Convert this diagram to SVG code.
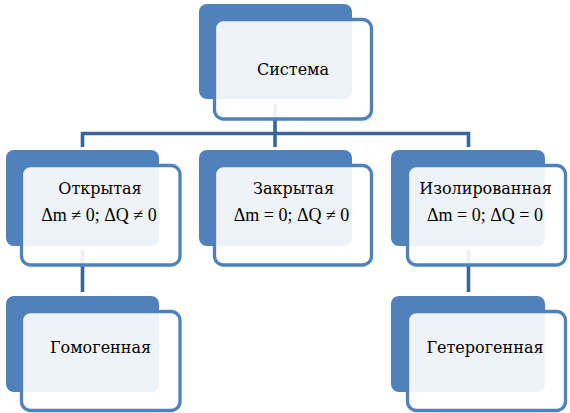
<svg xmlns="http://www.w3.org/2000/svg" width="570" height="413" viewBox="0 0 570 413">
  <style>
    .back { fill: #4F81BD; }
    .front { fill: #FFFFFF; fill-opacity: 0.9; stroke: #4F81BD; stroke-width: 3.3; }
    .conn { fill: none; stroke: #3D6497; stroke-width: 3.6; }
    .label { font-family: "DejaVu Serif", "Liberation Serif", serif; font-size: 16px; fill: #000000; text-anchor: middle; }
    .formula { font-family: "Liberation Serif", "DejaVu Serif", serif; font-size: 18px; fill: #000000; text-anchor: middle; }
  </style>
  <rect width="570" height="413" fill="#FFFFFF"/>
  <g id="connectors">
    <path class="conn" d="M275,104 V133.5"/>
    <path class="conn" d="M82.5,147 V133.5 H468.5 V147"/>
    <path class="conn" d="M275,133.5 V147"/>
    <path class="conn" d="M82.5,250 V292"/>
    <path class="conn" d="M468.5,250 V292"/>
  </g>
  <g id="node-sistema">
    <rect class="back" x="199" y="4" width="153" height="95" rx="8"/>
    <rect class="front" x="214.5" y="19.5" width="157" height="99.5" rx="9"/>
    <text class="label" x="293" y="75">Система</text>
  </g>
  <g id="node-otkrytaya">
    <rect class="back" x="6" y="150" width="153" height="96" rx="8"/>
    <rect class="front" x="21.5" y="165.5" width="158.5" height="99.5" rx="9"/>
    <text class="label" x="100" y="194">Открытая</text>
    <text class="formula" x="99" y="221">Δm ≠ 0; ΔQ ≠ 0</text>
  </g>
  <g id="node-zakrytaya">
    <rect class="back" x="199" y="150" width="153" height="96" rx="8"/>
    <rect class="front" x="214.5" y="165.5" width="157" height="99.5" rx="9"/>
    <text class="label" x="293.5" y="194">Закрытая</text>
    <text class="formula" x="291.5" y="221">Δm = 0; ΔQ ≠ 0</text>
  </g>
  <g id="node-izolirovannaya">
    <rect class="back" x="391" y="150" width="154" height="96" rx="8"/>
    <rect class="front" x="407.5" y="165.5" width="158" height="99.5" rx="9"/>
    <text class="label" x="485.5" y="194">Изолированная</text>
    <text class="formula" x="485" y="221">Δm = 0; ΔQ = 0</text>
  </g>
  <g id="node-gomogennaya">
    <rect class="back" x="6" y="296" width="153" height="96" rx="8"/>
    <rect class="front" x="21.5" y="311.5" width="158.5" height="99" rx="9"/>
    <text class="label" x="100.5" y="353">Гомогенная</text>
  </g>
  <g id="node-geterogennaya">
    <rect class="back" x="391" y="296" width="154" height="96" rx="8"/>
    <rect class="front" x="407.5" y="311.5" width="158" height="99" rx="9"/>
    <text class="label" x="485" y="353">Гетерогенная</text>
  </g>
</svg>
